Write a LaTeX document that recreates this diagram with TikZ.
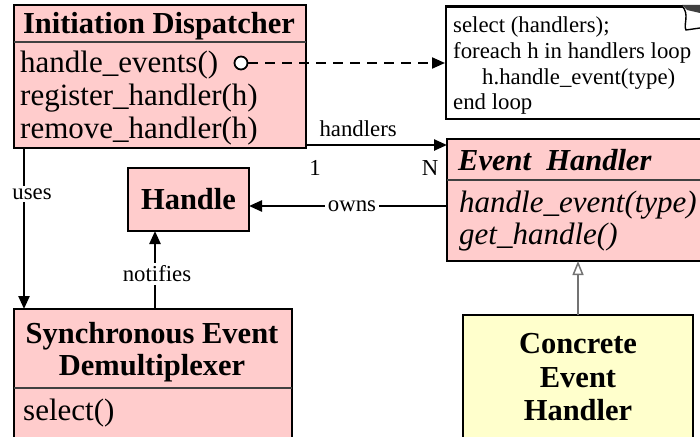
\documentclass[tikz,border=0pt]{standalone}
\usepackage{fontspec}
\setmainfont{Liberation Serif}
\usetikzlibrary{arrows.meta,calc}
\definecolor{pinkfill}{RGB}{255,204,204}
\definecolor{yellowfill}{RGB}{255,255,204}
\begin{document}
\begin{tikzpicture}[x=1pt,y=-1pt,
  box/.style={draw=black,line width=2.8pt,fill=pinkfill,anchor=north west,inner sep=0pt,outer sep=0pt},
  ybox/.style={box,fill=yellowfill},
  sepline/.style={line width=1.4pt,draw=black!75},
  big/.style={font=\fontsize{31}{33}\selectfont,inner sep=0pt},
  bigb/.style={font=\fontsize{30.5}{33}\selectfont\bfseries,inner sep=0pt},
  bigi/.style={font=\fontsize{31}{33}\selectfont\itshape,inner sep=0pt},
  bigbi/.style={font=\fontsize{30.5}{33}\selectfont\bfseries\itshape,inner sep=0pt},
  small/.style={font=\fontsize{22.8}{25}\selectfont,inner sep=0pt},
  lbl/.style={font=\fontsize{22.8}{25}\selectfont,inner sep=0pt},
  lblw/.style={font=\fontsize{22.8}{25}\selectfont,inner sep=2.5pt,fill=white},
  arr/.style={line width=2.4pt,-{Triangle[length=13pt,width=11pt]}},
  dashedarr/.style={line width=2pt,dash pattern=on 10pt off 7pt,-{Triangle[length=13pt,width=11pt]}},
  gen/.style={line width=1.5pt,draw=black!55,-{Triangle[open,length=14pt,width=11pt,fill=white]}}
]
\useasboundingbox (0,0) rectangle (700,436);
\fill[white] (0,0) rectangle (700,436);
\clip (0,0) rectangle (700,436);

% Initiation Dispatcher
\node[box,minimum width=292pt,minimum height=143pt] (disp) at (14,5) {};
\draw[sepline] (disp.west |- 0,42) -- (disp.east |- 0,42);
\node[bigb,anchor=base] (dispT) at (159,34) {Initiation Dispatcher};
\node[big,anchor=base west] (d1) at (20,72) {handle\_events()};
\node[big,anchor=base west] (d2) at (20,105) {register\_handler(h)};
\node[big,anchor=base west] (d3) at (20,138) {remove\_handler(h)};
\node[circle,draw,line width=1.8pt,fill=white,minimum size=13pt,inner sep=0pt] (dot) at (241,63) {};

% Note
\node[draw=black,line width=1.8pt,fill=white,anchor=north west,minimum width=275pt,minimum height=112pt,inner sep=0pt] (note) at (445,6) {};
\node[small,anchor=base west] (n1) at (453,33) {select (handlers);};
\node[small,anchor=base west] (n2) at (453,58) {foreach h in handlers loop};
\node[small,anchor=base west] (n3) at (482,84) {h.handle\_event(type)};
\node[small,anchor=base west] (n4) at (453,109) {end loop};
\fill[white] (683,0) rectangle (700,30);
\draw[line width=1.8pt] (445,6) -- (683,6);
\fill[black!75] (682,5) -- (700,5) -- (700,13) -- (687,10) -- cycle;
\draw[line width=1.4pt] (682,6) .. controls (690,14) and (683,25) .. (686,30) -- (700,28);

\draw[dashedarr] (dot.east) -- (dot.east -| note.west);

% Event Handler
\node[box,minimum width=280pt,minimum height=122pt] (evh) at (447,139) {};
\draw[sepline] (evh.west |- 0,180) -- (evh.east |- 0,180);
\node[bigbi,anchor=base west] (evhT) at (458,170) {Event\ \ Handler};
\node[bigi,anchor=base west] (e1) at (459,212) {handle\_event(type)};
\node[bigi,anchor=base west] (e2) at (459,244) {get\_handle()};

% Handle
\node[box,bigb,minimum width=121pt,minimum height=63pt,anchor=center] (handle) at (188.5,199.5) {Handle};

% Synchronous Event Demultiplexer
\node[box,minimum width=278pt,minimum height=140pt] (sync) at (14,309) {};
\draw[sepline] (sync.west |- 0,388) -- (sync.east |- 0,388);
\node[bigb,anchor=base] (s1) at (152,343) {Synchronous Event};
\node[bigb,anchor=base] (s2) at (152,375) {Demultiplexer};
\node[big,anchor=base west] (s3) at (23,420) {select()};

% Concrete Event Handler
\node[ybox,minimum width=230pt,minimum height=140pt] (conc) at (463,315) {};
\node[bigb,anchor=base] (c1) at (578,353) {Concrete};
\node[bigb,anchor=base] (c2) at (578,387) {Event};
\node[bigb,anchor=base] (c3) at (578,420) {Handler};

% connectors
\path ([yshift=3pt]disp.south east) coordinate (hA);
\draw[arr] (hA) -- node[lbl,pos=0.37,yshift=16pt]{handlers}
  node[lbl,pos=0.064,yshift=-23pt]{1}
  node[lbl,pos=0.88,yshift=-23pt]{N} (hA -| evh.west);

\path ([yshift=-6.5pt]handle.east) coordinate (oA);
\draw[arr] (oA -| evh.west) -- node[lblw,pos=0.48]{owns} (oA);

\path ([xshift=10pt]disp.south west) coordinate (uA);
\draw[arr] (uA) -- node[lblw,pos=0.286,xshift=8pt]{uses} (uA |- sync.north);

\path ([xshift=-33.5pt]handle.south) coordinate (nA);
\draw[arr] (nA |- sync.north) -- node[lblw,pos=0.45,xshift=2pt]{notifies} (nA);

\draw[gen] (conc.north) -- (conc.north |- evh.south);
\end{tikzpicture}
\end{document}
